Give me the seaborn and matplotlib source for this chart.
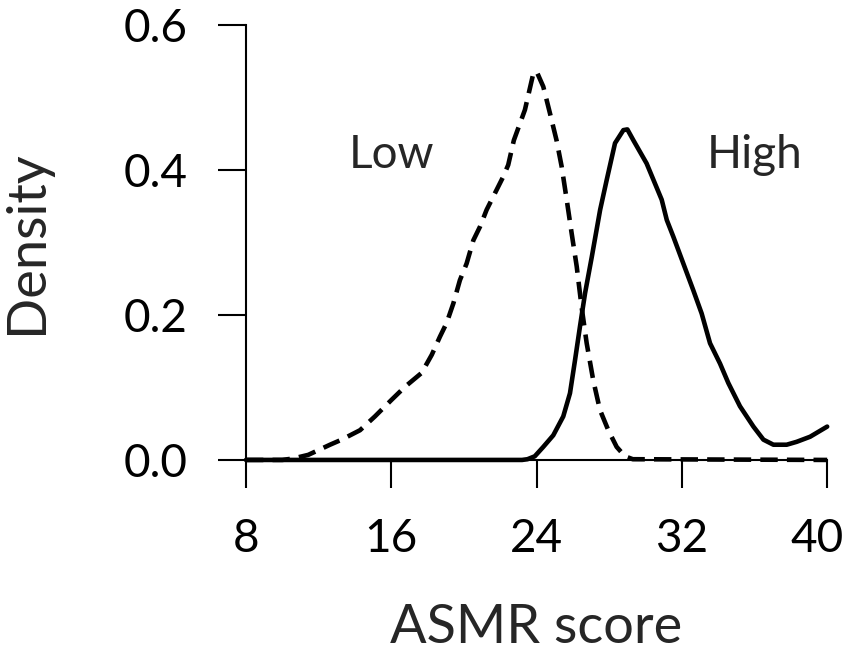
import numpy as np
import pandas as pd
import matplotlib
matplotlib.use('Agg')
import matplotlib.pyplot as plt
import matplotlib.transforms as mtransforms
import seaborn as sns

# values
low_x = [8, 10.0, 10.6, 11.43, 12.63, 13.27, 14.28, 15.1, 16.02, 16.76, 17.67, 18.23, 18.68,
         19.05, 19.42, 19.78, 20.15, 20.52, 20.89, 21.25, 21.71, 22.17, 22.44, 22.75, 23.36,
         23.82, 24.0, 24.37, 24.74, 25.1, 25.38, 25.66, 25.93, 26.21, 26.48, 26.76, 27.12,
         27.49, 27.95, 28.41, 28.87, 29.3, 40]
low_y = [0, 0, 0.002, 0.007, 0.021, 0.028, 0.041, 0.06, 0.083, 0.101, 0.12, 0.145, 0.17,
         0.189, 0.216, 0.248, 0.271, 0.303, 0.322, 0.345, 0.368, 0.391, 0.407, 0.441, 0.483,
         0.533, 0.536, 0.515, 0.478, 0.441, 0.405, 0.359, 0.313, 0.267, 0.211, 0.161, 0.11,
         0.069, 0.041, 0.018, 0.005, 0.001, 0]

high_x = [8, 23.2, 23.5, 23.9, 24.37, 24.92, 25.47, 25.84, 26.12, 26.39, 26.67, 27.04, 27.5, 27.86,
          28.32, 28.78, 29.0, 29.33, 30.06, 30.89, 31.17, 31.53, 32.08, 32.63, 33.09, 33.55,
          34.1, 34.56, 35.2, 35.94, 36.49, 37.04, 37.77, 38.32, 39.06, 40]
high_y = [0, 0, 0.001, 0.005, 0.018, 0.034, 0.06, 0.092, 0.138, 0.184, 0.23, 0.28, 0.345, 0.386,
          0.437, 0.455, 0.456, 0.441, 0.409, 0.359, 0.331, 0.308, 0.271, 0.234, 0.202, 0.161,
          0.133, 0.106, 0.074, 0.046, 0.028, 0.021, 0.021, 0.025, 0.032, 0.046]

x_ticks = [8, 16, 24, 32, 40]
y_ticks = [0.0, 0.2, 0.4, 0.6]

df = pd.concat([
    pd.DataFrame({'score': low_x, 'density': low_y, 'group': 'Low'}),
    pd.DataFrame({'score': high_x, 'density': high_y, 'group': 'High'}),
], ignore_index=True)

sns.set_style('ticks')
plt.rcParams['font.family'] = ['Lato', 'DejaVu Sans']

fig = plt.figure(figsize=(8.51, 6.58), dpi=100)
ax = fig.add_axes([0.289, 0.301, 0.683, 0.661])

sns.lineplot(data=df, x='score', y='density', style='group', color='black',
             dashes={'Low': (3.8, 2.0), 'High': ''}, linewidth=3.3, sort=False,
             estimator=None, legend=False, ax=ax, clip_on=False)
for ln in ax.lines:
    ln.set_solid_joinstyle('round')
    ln.set_dash_joinstyle('round')

ax.set_xlim(8, 40)
ax.set_ylim(0, 0.6)
ax.set_xticks(x_ticks)
ax.set_xticklabels([str(t) for t in x_ticks])
ax.set_yticks(y_ticks)
ax.set_yticklabels(['%.1f' % t for t in y_ticks])
ax.tick_params(axis='both', direction='out', length=20, width=1.5, labelsize=33, colors='black')
ax.tick_params(axis='x', pad=22)
ax.tick_params(axis='y', pad=22)
for s in ['top', 'right']:
    ax.spines[s].set_visible(False)
for s in ['left', 'bottom']:
    ax.spines[s].set_linewidth(1.5)
    ax.spines[s].set_color('black')

# last x label sits a little left of its tick, as in the reference
last = ax.get_xticklabels()[-1]
last.set_transform(last.get_transform() + mtransforms.ScaledTranslation(-10 / 100, 0, fig.dpi_scale_trans))

ax.set_xlabel('ASMR score', fontsize=39, labelpad=31)
ax.set_ylabel('Density', fontsize=39, labelpad=52)

ax.text(16.0, 0.403, 'Low', fontsize=33, ha='center', va='baseline')
ax.text(36.0, 0.403, 'High', fontsize=33, ha='center', va='baseline')

fig.savefig('out.png', dpi=100, facecolor='white')
